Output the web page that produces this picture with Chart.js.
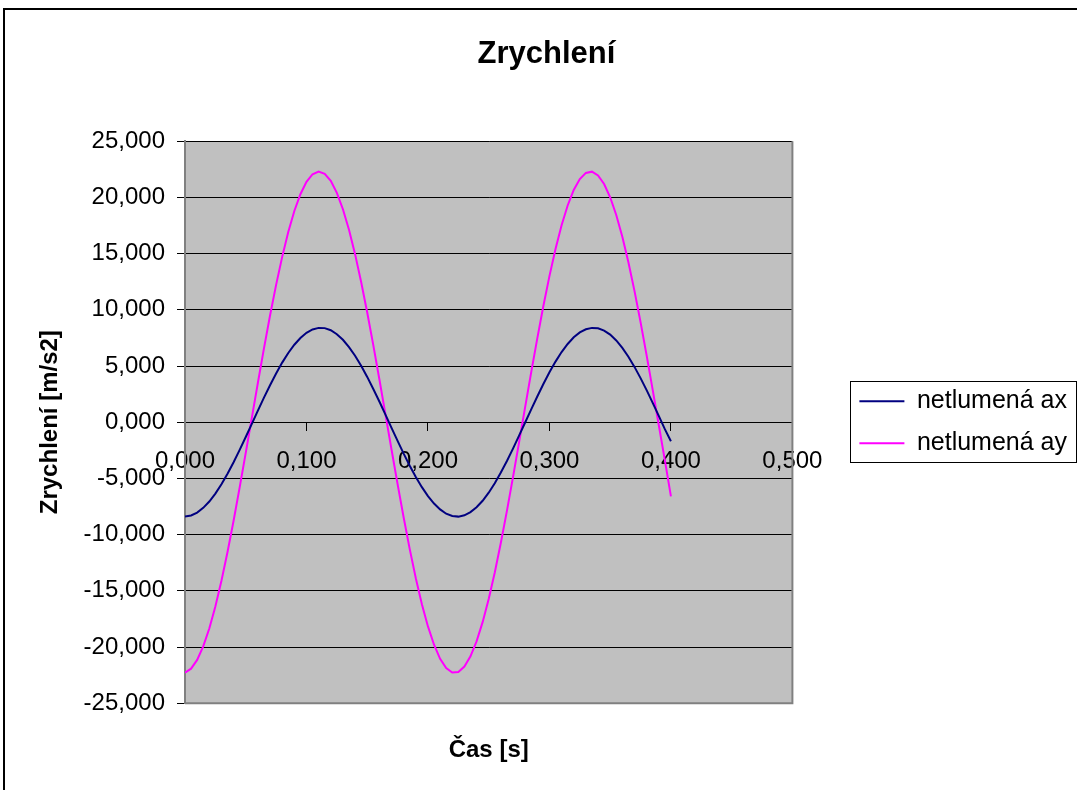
<!DOCTYPE html>
<html>
<head>
<meta charset="utf-8">
<title>Zrychlení</title>
<script src="https://cdn.jsdelivr.net/npm/chart.js@4/dist/chart.umd.min.js"></script>
<style>
  html, body { margin: 0; padding: 0; background: #fff; }
  canvas { display: block; }
</style>
</head>
<body>
<canvas id="graf-zrychleni" width="1077" height="790"></canvas>
<script>
// Čas [s] - body měření
const casy = [
  0.000, 0.005, 0.010, 0.015, 0.020, 0.025, 0.030, 0.035, 0.040, 0.045,
  0.050, 0.055, 0.060, 0.065, 0.070, 0.075, 0.080, 0.085, 0.090, 0.095,
  0.100, 0.105, 0.110, 0.115, 0.120, 0.125, 0.130, 0.135, 0.140, 0.145,
  0.150, 0.155, 0.160, 0.165, 0.170, 0.175, 0.180, 0.185, 0.190, 0.195,
  0.200, 0.205, 0.210, 0.215, 0.220, 0.225, 0.230, 0.235, 0.240, 0.245,
  0.250, 0.255, 0.260, 0.265, 0.270, 0.275, 0.280, 0.285, 0.290, 0.295,
  0.300, 0.305, 0.310, 0.315, 0.320, 0.325, 0.330, 0.335, 0.340, 0.345,
  0.350, 0.355, 0.360, 0.365, 0.370, 0.375, 0.380, 0.385, 0.390, 0.395,
  0.400
];

// netlumená ax [m/s2]
const netlumenaAx = [
  -8.40, -8.30, -8.04, -7.62, -7.06, -6.35, -5.52, -4.58, -3.56, -2.46,
  -1.32, -0.15, 1.03, 2.18, 3.29, 4.33, 5.30, 6.16, 6.89, 7.49,
  7.95, 8.25, 8.39, 8.37, 8.18, 7.83, 7.33, 6.68, 5.91, 5.02,
  4.03, 2.96, 1.84, 0.68, -0.50, -1.66, -2.80, -3.87, -4.88, -5.78,
  -6.57, -7.24, -7.76, -8.14, -8.35, -8.40, -8.28, -8.00, -7.57, -6.99,
  -6.27, -5.43, -4.48, -3.45, -2.35, -1.20, -0.03, 1.14, 2.29, 3.40,
  4.44, 5.39, 6.24, 6.96, 7.55, 7.99, 8.27, 8.39, 8.35, 8.15,
  7.79, 7.27, 6.61, 5.82, 4.92, 3.92, 2.85, 1.72, 0.56, -0.62,
  -1.70
];

// netlumená ay [m/s2]
const netlumenaAy = [
  -22.28, -21.93, -21.15, -19.94, -18.35, -16.39, -14.11, -11.55, -8.77, -5.80,
  -2.73, 0.39, 3.51, 6.57, 9.49, 12.22, 14.71, 16.92, 18.79, 20.28,
  21.38, 22.06, 22.30, 22.10, 21.47, 20.41, 18.95, 17.12, 14.95, 12.47,
  9.76, 6.86, 3.82, 0.70, -2.43, -5.51, -8.48, -11.29, -13.88, -16.19,
  -18.17, -19.80, -21.05, -21.87, -22.27, -22.22, -21.74, -20.83, -19.50, -17.79,
  -15.73, -13.37, -10.73, -7.89, -4.89, -1.79, 1.34, 4.45, 7.46, 10.34,
  13.00, 15.41, 17.52, 19.28, 20.66, 21.63, 22.18, 22.29, 21.95, 21.19,
  20.01, 18.43, 16.50, 14.23, 11.68, 8.90, 5.95, 2.88, -0.25, -3.37,
  -6.60
];

// rozsahy os
const osaX = { min: 0, max: 0.5, krok: 0.1 };
const osaY = { min: -25, max: 25, krok: 5 };

// formát čísel jako v Excelu (desetinná čárka, 3 místa)
function formatCislo(hodnota) {
    return hodnota.toFixed(3).replace('.', ',');
}

function bodySerie(hodnoty) {
    return casy.map((t, i) => ({ x: t, y: hodnoty[i] }));
}

Chart.defaults.font.family = 'Arial, "Liberation Sans", sans-serif';
Chart.defaults.color = '#000';

// šedé pozadí plochy grafu, rámečky
const rameckyGrafu = {
    id: 'rameckyGrafu',
    beforeDraw(chart) {
        const { ctx, chartArea: a } = chart;
        ctx.save();
        ctx.fillStyle = '#fff';
        ctx.fillRect(0, 0, chart.width, chart.height);
        ctx.fillStyle = '#c0c0c0';
        ctx.fillRect(a.left, a.top, a.right - a.left, a.bottom - a.top);
        ctx.restore();
    },
    afterDraw(chart) {
        const { ctx, chartArea: a } = chart;
        ctx.save();
        // pravý a spodní okraj plochy
        ctx.strokeStyle = '#808080';
        ctx.lineWidth = 2;
        ctx.beginPath();
        ctx.moveTo(a.right, a.top);
        ctx.lineTo(a.right, a.bottom);
        ctx.lineTo(a.left, a.bottom);
        ctx.stroke();

        // rámeček legendy
        const boxy = chart.legend.legendHitBoxes;
        if (boxy && boxy.length) {
            const prvni = boxy[0];
            const posledni = boxy[boxy.length - 1];
            const vlevo = Math.min(...boxy.map(b => b.left)) - 9;
            const vpravo = Math.max(...boxy.map(b => b.left + b.width)) + 9;
            const nahore = prvni.top - 8;
            const dole = posledni.top + posledni.height + 6;
            ctx.strokeStyle = '#000';
            ctx.lineWidth = 1;
            ctx.strokeRect(Math.round(vlevo) + 0.5, Math.round(nahore) + 0.5,
                Math.round(vpravo - vlevo), Math.round(dole - nahore));
        }

        // vnější rámeček
        ctx.strokeStyle = '#000';
        ctx.lineWidth = 2;
        ctx.strokeRect(4, 9, chart.width + 10, chart.height + 10);
        ctx.restore();
    }
};

const ctx = document.getElementById('graf-zrychleni').getContext('2d');
new Chart(ctx, {
    type: 'scatter',
    data: {
        datasets: [{
            label: 'netlumená ax',
            data: bodySerie(netlumenaAx),
            borderColor: '#000080',
            backgroundColor: '#000080',
            borderWidth: 2,
            showLine: true,
            pointRadius: 0,
            tension: 0
        }, {
            label: 'netlumená ay',
            data: bodySerie(netlumenaAy),
            borderColor: '#ff00ff',
            backgroundColor: '#ff00ff',
            borderWidth: 2,
            showLine: true,
            pointRadius: 0,
            tension: 0
        }]
    },
    options: {
        responsive: false,
        maintainAspectRatio: false,
        animation: false,
        devicePixelRatio: 1,
        layout: { padding: { left: 16, right: 0, top: 0, bottom: 0 } },
        plugins: {
            title: {
                display: true,
                text: 'Zrychlení',
                color: '#000',
                font: { size: 31, weight: 'bold' },
                padding: { top: 36, bottom: 68 }
            },
            legend: {
                position: 'right',
                fullSize: false,
                maxWidth: 320,
                labels: {
                    usePointStyle: true,
                    pointStyle: 'line',
                    pointStyleWidth: 45,
                    padding: 17,
                    color: '#000',
                    font: { size: 25 }
                }
            },
            tooltip: { enabled: false }
        },
        scales: {
            x: {
                type: 'linear',
                position: { y: 0 },
                min: osaX.min,
                max: osaX.max,
                ticks: {
                    stepSize: osaX.krok,
                    padding: 17,
                    font: { size: 24 },
                    color: '#000',
                    callback: v => formatCislo(v)
                },
                grid: {
                    drawOnChartArea: false,
                    drawTicks: true,
                    tickLength: 8,
                    color: '#000'
                },
                border: { display: true, color: '#000', width: 1 }
            },
            xt: {
                type: 'linear',
                axis: 'x',
                position: 'bottom',
                ticks: { display: false },
                grid: { display: false, drawTicks: false },
                border: { display: false },
                title: {
                    display: true,
                    text: 'Čas [s]',
                    color: '#000',
                    font: { size: 24, weight: 'bold' },
                    padding: { top: 33, bottom: 25 }
                }
            },
            y: {
                type: 'linear',
                position: 'left',
                min: osaY.min,
                max: osaY.max,
                ticks: {
                    stepSize: osaY.krok,
                    padding: 12,
                    font: { size: 24 },
                    color: '#000',
                    callback: v => formatCislo(v)
                },
                grid: {
                    color: '#000',
                    lineWidth: 1,
                    drawTicks: true,
                    tickLength: 8
                },
                border: { display: true, color: '#808080', width: 2 },
                title: {
                    display: true,
                    text: 'Zrychlení [m/s2]',
                    color: '#000',
                    font: { size: 24, weight: 'bold' },
                    padding: { top: 20, bottom: 0 }
                },
                afterFit: s => { s.width = 169; }
            },
            yr: {
                type: 'linear',
                axis: 'y',
                position: 'right',
                ticks: { display: false },
                grid: { display: false, drawTicks: false },
                border: { display: false },
                afterFit: s => { s.width = 50; }
            }
        }
    },
    plugins: [rameckyGrafu]
});
</script>
</body>
</html>
